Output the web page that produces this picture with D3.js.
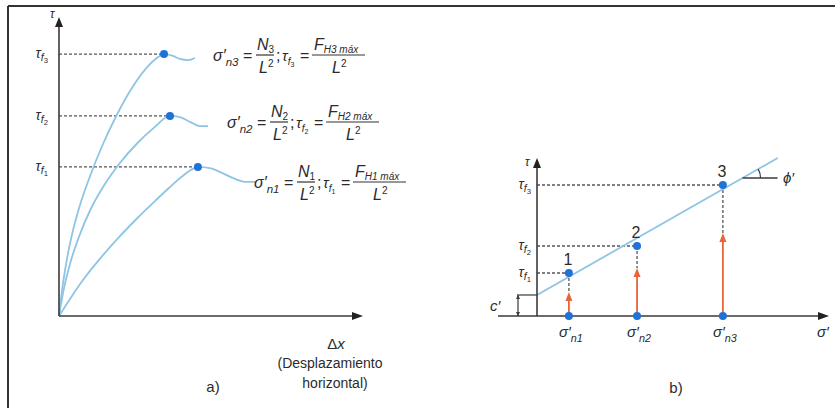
<!DOCTYPE html>
<html>
<head>
<meta charset="utf-8">
<script src="https://cdn.jsdelivr.net/npm/d3@7"></script>
<style>
  body { margin: 0; background: #fff; }
  svg { display: block; }
  text { font-family: "Liberation Sans Narrow", "Liberation Sans", Arial, sans-serif; fill: #2b2b2b; }
</style>
</head>
<body>
<div id="chart"></div>
<script>
// ---- panel a): shear stress vs horizontal displacement (0-100 on each axis)
const curve1 = [[0,0],[4,6.2],[8,12],[14,19.5],[20,26.3],[26,32.5],[32,38.3],[37,43],[41,46.5],[44,48.7],[46.3,49.7],[50.7,49.2],[54.3,47.7],[58.7,45.7],[62,44.7],[65.3,44.7]];
const curve2 = [[0,0],[1.5,8.5],[3.7,17.5],[6.7,26.5],[10.5,35.5],[15,43.5],[20.3,51],[26,57.5],[31.7,62.8],[37,66.7],[40.3,66.3],[43.7,64.7],[47,63.3],[49.7,63.3]];
const curve3 = [[0,0],[1,8.5],[2.3,17],[4.3,27],[7,37],[10.3,46.5],[14.3,56.5],[19,66.5],[24.3,76],[29.7,83.3],[32.5,85.9],[35,87.3],[37.7,86.8],[40.3,85.7],[43,85.3],[45.3,86]];
const curvesA = [curve1, curve2, curve3];

// ---- panel b): failure envelope (0-100 on each axis)
const sigmaN = [11, 34.5, 64.1];      // σ'n1..3
const tauF = [27.2, 44.3, 82.9];      // τf1..3
const arrowTop = [15.2, 30.4, 52.5];  // orange arrow tips
const cohesion = 13.3;                // c'
const envelopeEnd = [83, 100];

const width = 835, height = 408;
const blue = "#8ec5e4", dot = "#1f72d6", orange = "#e8653a", ink = "#3a3a3a", dash = "#555";

const svg = d3.select("#chart").append("svg")
  .attr("width", width).attr("height", height)
  .attr("viewBox", `0 0 ${width} ${height}`);

// frame
svg.append("line").attr("x1", 8).attr("y1", 6).attr("x2", width).attr("y2", 6)
  .attr("stroke", "#333").attr("stroke-width", 2);
svg.append("line").attr("x1", 8).attr("y1", 6).attr("x2", 8).attr("y2", height)
  .attr("stroke", "#333").attr("stroke-width", 2);

function arrowHead(g, x, y, dir, len, wid, color) {
  // dir: "up" or "right"
  const pts = dir === "up"
    ? [[x, y], [x - wid / 2, y + len], [x + wid / 2, y + len]]
    : [[x, y], [x - len, y - wid / 2], [x - len, y + wid / 2]];
  g.append("path").attr("d", "M" + pts.join("L") + "Z").attr("fill", color);
}

// τ with subscript f and index
function tauLabel(g, x, y, idx, size) {
  const t = g.append("text").attr("x", x).attr("y", y).attr("text-anchor", "end")
    .attr("font-size", size);
  t.append("tspan").attr("font-style", "italic").text("τ");
  t.append("tspan").attr("font-style", "italic").attr("font-size", size * 0.75).attr("dy", 3).text("f");
  t.append("tspan").attr("font-size", size * 0.55).attr("dy", 2).text(idx);
}

// σ′ with subscript n + index, one text element
function sigmaLabel(g, x, y, idx, size) {
  const t = g.append("text").attr("x", x).attr("y", y).attr("font-size", size).attr("font-style", "italic");
  t.append("tspan").text("σ′");
  t.append("tspan").attr("dy", size * 0.3).attr("font-size", size * 0.72).text("n" + idx);
}

// ================= panel a =================
const gA = svg.append("g");
const xA = d3.scaleLinear().domain([0, 100]).range([59, 359]);
const yA = d3.scaleLinear().domain([0, 100]).range([316, 16]);

const lineA = d3.line().x(d => xA(d[0])).y(d => yA(d[1])).curve(d3.curveMonotoneX);

// dashed guides to peaks
curvesA.forEach((c, i) => {
  const pk = d3.greatest(c, d => d[1]);
  gA.append("line").attr("x1", xA(0)).attr("x2", xA(pk[0])).attr("y1", yA(pk[1])).attr("y2", yA(pk[1]))
    .attr("stroke", dash).attr("stroke-width", 1.3).attr("stroke-dasharray", "3,2");
  tauLabel(gA, 48, yA(pk[1]) + 4, i + 1, 14);
});

curvesA.forEach(c => {
  gA.append("path").datum(c).attr("d", lineA).attr("fill", "none")
    .attr("stroke", blue).attr("stroke-width", 1.8);
});
curvesA.forEach(c => {
  const pk = d3.greatest(c, d => d[1]);
  gA.append("circle").attr("cx", xA(pk[0])).attr("cy", yA(pk[1])).attr("r", 4).attr("fill", dot);
});

// axes
gA.append("line").attr("x1", xA(0)).attr("x2", xA(0)).attr("y1", yA(0)).attr("y2", yA(100) + 8)
  .attr("stroke", ink).attr("stroke-width", 1.6);
arrowHead(gA, xA(0), yA(100) + 1, "up", 10, 8, "#222");
gA.append("line").attr("x1", xA(0)).attr("x2", xA(100) - 6).attr("y1", yA(0)).attr("y2", yA(0))
  .attr("stroke", ink).attr("stroke-width", 1.6);
arrowHead(gA, xA(100) + 4, yA(0), "right", 11, 8, "#222");
gA.append("text").attr("x", 50).attr("y", 18).attr("font-size", 12).attr("font-style", "italic").text("τ");

gA.append("text").attr("x", 336).attr("y", 349).attr("text-anchor", "middle").attr("font-size", 15)
  .html('Δ<tspan font-style="italic">x</tspan>');
gA.append("text").attr("x", 330).attr("y", 368).attr("text-anchor", "middle").attr("font-size", 14).text("(Desplazamiento");
gA.append("text").attr("x", 335).attr("y", 388).attr("text-anchor", "middle").attr("font-size", 14).text("horizontal)");
gA.append("text").attr("x", 213).attr("y", 392).attr("text-anchor", "middle").attr("font-size", 15).text("a)");

// equations
function equation(x0, yl, n) {
  const g = svg.append("g").attr("transform", `translate(${x0},${yl})`);
  sigmaLabel(g, 0, 6, n, 16);
  g.append("text").attr("x", 30).attr("y", 6).attr("font-size", 16).text("=");
  // N / L²
  g.append("line").attr("x1", 43).attr("x2", 61).attr("y1", 0).attr("y2", 0).attr("stroke", "#333").attr("stroke-width", 1.2);
  g.append("text").attr("x", 44).attr("y", -5).attr("font-size", 16).attr("font-style", "italic")
    .html(`N<tspan font-size="10" font-style="normal" dy="3">${n}</tspan>`);
  g.append("text").attr("x", 46).attr("y", 18).attr("font-size", 16).attr("font-style", "italic")
    .html(`L<tspan font-size="10" font-style="normal" dy="-6">2</tspan>`);
  g.append("text").attr("x", 63).attr("y", 6).attr("font-size", 16).text(";");
  const t = g.append("text").attr("x", 69).attr("y", 6).attr("font-size", 15).attr("font-style", "italic");
  t.append("tspan").text("τ");
  t.append("tspan").attr("font-size", 10).attr("dy", 4).text("f");
  t.append("tspan").attr("font-size", 7).attr("dy", 2).attr("font-style", "normal").text(n);
  g.append("text").attr("x", 87).attr("y", 6).attr("font-size", 16).text("=");
  // F / L²
  g.append("line").attr("x1", 99).attr("x2", 152).attr("y1", 0).attr("y2", 0).attr("stroke", "#333").attr("stroke-width", 1.2);
  g.append("text").attr("x", 101).attr("y", -5).attr("font-size", 16).attr("font-style", "italic")
    .html(`F<tspan font-size="10" dy="3">H${n} máx</tspan>`);
  g.append("text").attr("x", 119).attr("y", 18).attr("font-size", 16).attr("font-style", "italic")
    .html(`L<tspan font-size="10" font-style="normal" dy="-6">2</tspan>`);
}
equation(213, 55, 3);
equation(227, 122, 2);
equation(254, 182, 1);

// ================= panel b =================
const gB = svg.append("g");
const xB = d3.scaleLinear().domain([0, 100]).range([537, 827]);
const yB = d3.scaleLinear().domain([0, 100]).range([316, 158]);

// dashed guides
sigmaN.forEach((s, i) => {
  gB.append("line").attr("x1", xB(0)).attr("x2", xB(s)).attr("y1", yB(tauF[i])).attr("y2", yB(tauF[i]))
    .attr("stroke", dash).attr("stroke-width", 1.3).attr("stroke-dasharray", "3,2");
  gB.append("line").attr("x1", xB(s)).attr("x2", xB(s)).attr("y1", yB(tauF[i])).attr("y2", yB(arrowTop[i]))
    .attr("stroke", dash).attr("stroke-width", 1.3).attr("stroke-dasharray", "3,2");
  tauLabel(gB, 531, yB(tauF[i]) + 4, i + 1, 14);
});

// orange arrows
sigmaN.forEach((s, i) => {
  gB.append("line").attr("x1", xB(s)).attr("x2", xB(s)).attr("y1", yB(0)).attr("y2", yB(arrowTop[i]) + 6)
    .attr("stroke", orange).attr("stroke-width", 1.8);
  arrowHead(gB, xB(s), yB(arrowTop[i]), "up", 9, 7, orange);
});

// envelope
gB.append("line").attr("x1", xB(0)).attr("y1", yB(cohesion)).attr("x2", xB(envelopeEnd[0])).attr("y2", yB(envelopeEnd[1]))
  .attr("stroke", blue).attr("stroke-width", 1.8);

// axes
gB.append("line").attr("x1", xB(0)).attr("x2", xB(0)).attr("y1", yB(0)).attr("y2", yB(100) + 8)
  .attr("stroke", ink).attr("stroke-width", 1.6);
arrowHead(gB, xB(0), yB(100), "up", 10, 8, "#222");
gB.append("line").attr("x1", 498).attr("x2", xB(100) - 6).attr("y1", yB(0)).attr("y2", yB(0))
  .attr("stroke", ink).attr("stroke-width", 1.6);
arrowHead(gB, xB(100) + 2, yB(0), "right", 11, 8, "#222");
gB.append("text").attr("x", 525).attr("y", 166).attr("font-size", 12).attr("font-style", "italic").text("τ");
gB.append("text").attr("x", 817).attr("y", 337).attr("font-size", 15).attr("font-style", "italic").text("σ′");

// points
sigmaN.forEach((s, i) => {
  gB.append("circle").attr("cx", xB(s)).attr("cy", yB(tauF[i])).attr("r", 4).attr("fill", dot);
  gB.append("circle").attr("cx", xB(s)).attr("cy", yB(0)).attr("r", 4).attr("fill", dot);
  gB.append("text").attr("x", xB(s) - 1).attr("y", yB(tauF[i]) - 8).attr("text-anchor", "middle")
    .attr("font-size", 16).text(i + 1);
  sigmaLabel(gB, xB(s) - 10, 337, i + 1, 15);
});

// c' dimension
const cy = yB(cohesion);
gB.append("line").attr("x1", 517).attr("x2", xB(0)).attr("y1", cy).attr("y2", cy).attr("stroke", ink).attr("stroke-width", 1.2);
gB.append("line").attr("x1", 518).attr("x2", 518).attr("y1", cy).attr("y2", yB(0)).attr("stroke", ink).attr("stroke-width", 1.2);
arrowHead(gB, 518, cy, "up", 4, 4, ink);
gB.append("path").attr("d", `M518,${yB(0)}L516,${yB(0) - 4}L520,${yB(0) - 4}Z`).attr("fill", ink);
gB.append("text").attr("x", 490).attr("y", 311).attr("font-size", 15).attr("font-style", "italic").text("c′");

// φ' angle
const slope = (yB(envelopeEnd[1]) - yB(cohesion)) / (xB(envelopeEnd[0]) - xB(0));
const yPhi = 178;
const xPhi = xB(0) + (yPhi - yB(cohesion)) / slope;
gB.append("line").attr("x1", xPhi).attr("x2", xPhi + 35).attr("y1", yPhi).attr("y2", yPhi)
  .attr("stroke", ink).attr("stroke-width", 1.4);
const ang = Math.atan(-slope);
const r = 18;
gB.append("path").attr("d", `M${xPhi + r},${yPhi}A${r},${r} 0 0 0 ${xPhi + r * Math.cos(ang)},${yPhi - r * Math.sin(ang)}`)
  .attr("fill", "none").attr("stroke", ink).attr("stroke-width", 1.2);
gB.append("text").attr("x", 783).attr("y", 183).attr("font-size", 15).attr("font-style", "italic").text("ϕ′");

gB.append("text").attr("x", 676).attr("y", 393).attr("text-anchor", "middle").attr("font-size", 15).text("b)");
</script>
</body>
</html>
